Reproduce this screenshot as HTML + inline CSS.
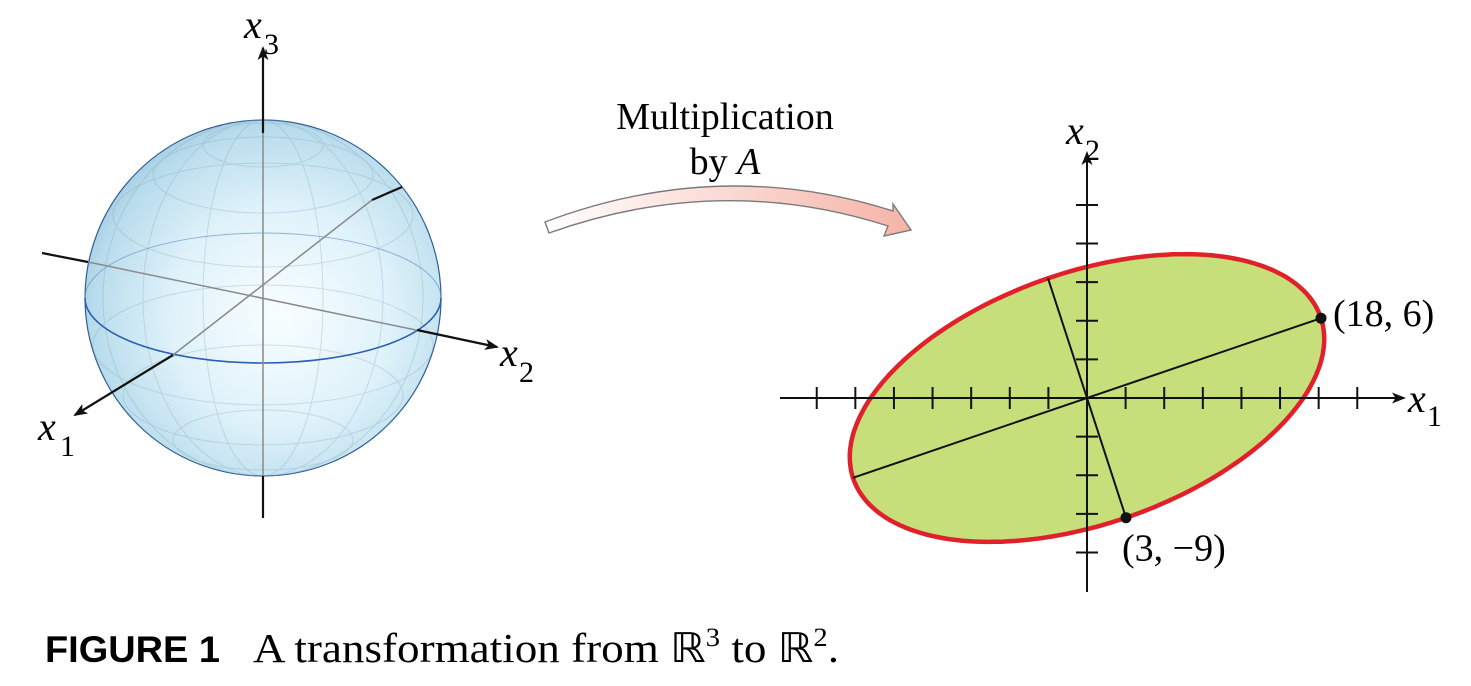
<!DOCTYPE html>
<html><head><meta charset="utf-8"><style>
html,body{margin:0;padding:0;background:#fff;width:1471px;height:686px;overflow:hidden}
svg{display:block}
.serif{font-family:"Liberation Serif",serif}
</style></head><body>
<svg id="fig" width="1471" height="686" viewBox="0 0 1471 686">
<defs>
<radialGradient id="sph" cx="0.55" cy="0.55" r="0.62">
<stop offset="0" stop-color="#f8feff"/><stop offset="0.5" stop-color="#dff2fa"/><stop offset="0.85" stop-color="#b8dcec"/><stop offset="1" stop-color="#98c4da"/>
</radialGradient>
<linearGradient id="arr" x1="0" x2="1"><stop offset="0" stop-color="#ffffff"/><stop offset="1" stop-color="#f6b3a8"/></linearGradient>
<marker id="ah" markerWidth="14" markerHeight="11" refX="12" refY="5.5" orient="auto" markerUnits="userSpaceOnUse"><path d="M0,0 L14,5.5 L0,11 L3.5,5.5z" fill="#111"/></marker>
</defs>
<g id="sphere">
<circle cx="263" cy="298" r="178" fill="url(#sph)" stroke="#2e5e95" stroke-width="1.2"/>
<g fill="none" stroke="#7f9fb0" stroke-width="1" opacity="0.3">
<ellipse cx="263" cy="145" rx="60" ry="22"/><ellipse cx="263" cy="175" rx="110" ry="38"/>
<ellipse cx="263" cy="215" rx="150" ry="52"/><ellipse cx="263" cy="345" rx="170" ry="60"/>
<ellipse cx="263" cy="395" rx="140" ry="50"/><ellipse cx="263" cy="440" rx="90" ry="30"/>
<ellipse cx="263" cy="298" rx="60" ry="178"/><ellipse cx="263" cy="298" rx="120" ry="178"/><ellipse cx="263" cy="298" rx="160" ry="178"/>
</g>
<path d="M85,298 A178,65 0 0 1 441,298" fill="none" stroke="#5a86c0" stroke-width="1" opacity="0.6"/>
<path d="M85,298 A178,65 0 0 0 441,298" fill="none" stroke="#2b5fb0" stroke-width="1.6"/>
<g stroke="#8a8a8a" stroke-width="1.5"><line x1="263" y1="120" x2="263" y2="476"/><line x1="88" y1="262" x2="440" y2="335"/><line x1="372" y1="200" x2="173" y2="355"/></g>
<g stroke="#111" stroke-width="2.2" fill="none">
<line x1="263" y1="133" x2="263" y2="48" marker-end="url(#ah)"/>
<line x1="263" y1="476" x2="263" y2="518"/>
<line x1="42" y1="253" x2="88" y2="262"/>
<line x1="417" y1="330" x2="497" y2="347" marker-end="url(#ah)"/>
<line x1="372" y1="200" x2="402" y2="187"/>
<line x1="173" y1="355" x2="75" y2="415" marker-end="url(#ah)"/>
</g>
<text class="serif" x="244" y="38" font-size="40" font-style="italic">x</text><text class="serif" x="264" y="54" font-size="30">3</text>
<text class="serif" x="500" y="366" font-size="40" font-style="italic">x</text><text class="serif" x="519" y="382" font-size="30">2</text>
<text class="serif" x="38" y="440" font-size="40" font-style="italic">x</text><text class="serif" x="60" y="456" font-size="30">1</text>
</g>
<g>
<path d="M545,222 Q720,156 893,211 L893,204 L911,230 L884,236 L888,226 Q720,172 549,233 Z" fill="url(#arr)" stroke="#7a7a7a" stroke-width="1.4"/>
<text class="serif" x="725" y="129" font-size="38" text-anchor="middle">Multiplication</text>
<text class="serif" x="725" y="174" font-size="38" text-anchor="middle">by <tspan font-style="italic">A</tspan></text>
</g>
<g id="plane"></g>
<text x="45" y="662" font-family="Liberation Sans,sans-serif" font-weight="bold" font-size="37" textLength="175" lengthAdjust="spacingAndGlyphs">FIGURE 1</text>
<text class="serif" x="253" y="662" font-size="41" textLength="586" lengthAdjust="spacingAndGlyphs">A transformation from ℝ<tspan font-size="26" dy="-16">3</tspan><tspan dy="16"> to ℝ</tspan><tspan font-size="26" dy="-16">2</tspan><tspan dy="16">.</tspan></text>
</svg>
<script>
const majorAxisEnd=[18,6];
const minorAxisEnd=[3,-9];
const pointLabels=["(18, 6)","(3, -9)"];
const xTicks=[-21,-18,-15,-12,-9,-6,-3,3,6,9,12,15,18,21];
const yTicks=[-12,-9,-6,-3,3,6,9,12,15];
const ns="http://www.w3.org/2000/svg";
const g=document.getElementById('plane');
const ox=1087,oy=398,sx=13.0,sy=13.3;
const X=v=>ox+v*sx, Y=v=>oy-v*sy;
const TX=v=>ox+v*12.87, TY=v=>oy-v*12.87;
function mk(t,a,p){const e=document.createElementNS(ns,t);for(const k in a)e.setAttribute(k,a[k]);(p||g).appendChild(e);return e;}
let d="";
for(let i=0;i<=200;i++){const t=i/200*2*Math.PI;const x=Math.cos(t)*majorAxisEnd[0]+Math.sin(t)*minorAxisEnd[0];const y=Math.cos(t)*majorAxisEnd[1]+Math.sin(t)*minorAxisEnd[1];d+=(i?"L":"M")+X(x).toFixed(1)+","+Y(y).toFixed(1);}
const el=mk('path',{d:d+"Z",fill:"#c6df7b",stroke:"#e0202a","stroke-width":4.5});


const xa=mk('line',{x1:780,y1:oy,x2:1404,y2:oy,stroke:"#111","stroke-width":2,"marker-end":"url(#ah)"});


const ya=mk('line',{x1:ox,y1:592,x2:ox,y2:153,stroke:"#111","stroke-width":2,"marker-end":"url(#ah)"});


xTicks.forEach(v=>{const t=mk('line',{x1:TX(v),y1:oy-11,x2:TX(v),y2:oy+11,stroke:"#111","stroke-width":2});

});
yTicks.forEach(v=>{const t=mk('line',{x1:ox-11,y1:TY(v),x2:ox+11,y2:TY(v),stroke:"#111","stroke-width":2});

});
[majorAxisEnd,minorAxisEnd].forEach((p,i)=>{
const l=mk('line',{x1:X(-p[0]),y1:Y(-p[1]),x2:X(p[0]),y2:Y(p[1]),stroke:"#111","stroke-width":2});


const c=mk('circle',{cx:X(p[0]),cy:Y(p[1]),r:5.5,fill:"#111"});


const tx=mk('text',{x:i?X(p[0])-4:X(p[0])+12,y:i?Y(p[1])+43:Y(p[1])+8,"font-size":38,"font-family":"Liberation Serif,serif"});
tx.textContent=pointLabels[i].replace('-','\u2212');


});
const lx=mk('text',{x:1408,y:412,"font-size":40,"font-style":"italic","font-family":"Liberation Serif,serif"});lx.textContent="x";
const lx1=mk('text',{x:1427,y:426,"font-size":30,"font-family":"Liberation Serif,serif"});lx1.textContent="1";
const ly=mk('text',{x:1066,y:144,"font-size":40,"font-style":"italic","font-family":"Liberation Serif,serif"});ly.textContent="x";
const ly1=mk('text',{x:1085,y:160,"font-size":30,"font-family":"Liberation Serif,serif"});ly1.textContent="2";
</script>
</body></html>
